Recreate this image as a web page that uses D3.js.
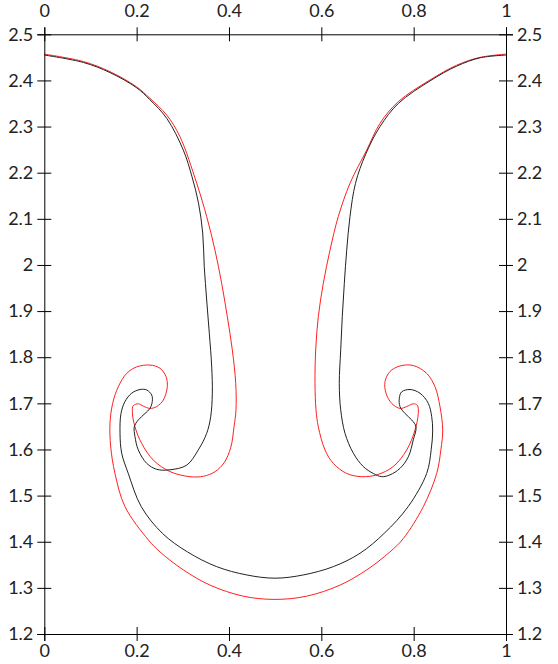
<!DOCTYPE html>
<html>
<head>
<meta charset="utf-8">
<script src="https://cdn.jsdelivr.net/npm/d3@7"></script>
<style>
  body { margin: 0; background: #fff; }
  svg text { font-family: Lato, "DejaVu Sans", sans-serif; font-size: 18px; fill: #222; }
</style>
</head>
<body>
<svg id="chart" width="558" height="664"></svg>
<script>
// tick values
const xTicks = [0, 0.2, 0.4, 0.6, 0.8, 1];
const yTicks = [1.2, 1.3, 1.4, 1.5, 1.6, 1.7, 1.8, 1.9, 2, 2.1, 2.2, 2.3, 2.4, 2.5];

// red interface (x, y)
const redX = [0, 0.0845, 0.1423, 0.2001, 0.2289, 0.2651, 0.2939, 0.3301, 0.3517, 0.3697, 0.3842, 0.3964, 0.4072, 0.4146, 0.4152, 0.4109, 0.4040, 0.3900, 0.3700, 0.3450, 0.3156, 0.2723, 0.2361, 0.2110, 0.1964, 0.1906, 0.1928, 0.2036, 0.2144, 0.2289, 0.2434, 0.2577, 0.2664, 0.2636, 0.2506, 0.2289, 0.2001, 0.1785, 0.1603, 0.1481, 0.1423, 0.1438, 0.1531, 0.1748, 0.2253, 0.2506, 0.3011, 0.3589, 0.4310, 0.4997, 0.5683, 0.6405, 0.6983, 0.7487, 0.7776, 0.8209, 0.8499, 0.8590, 0.8629, 0.8570, 0.8462, 0.8282, 0.7992, 0.7704, 0.7487, 0.7379, 0.7401, 0.7524, 0.7704, 0.7849, 0.7992, 0.8079, 0.8100, 0.8029, 0.7849, 0.7559, 0.7200, 0.6875, 0.6550, 0.6259, 0.6080, 0.5935, 0.5885, 0.5863, 0.5878, 0.5935, 0.6043, 0.6188, 0.6368, 0.6621, 0.6983, 0.7271, 0.7667, 0.8354, 0.8932, 0.9437, 1];
const redY = [2.457, 2.441, 2.419, 2.386, 2.361, 2.325, 2.278, 2.177, 2.105, 2.032, 1.960, 1.888, 1.816, 1.743, 1.686, 1.649, 1.605, 1.572, 1.552, 1.542, 1.541, 1.552, 1.577, 1.613, 1.649, 1.682, 1.695, 1.699, 1.694, 1.689, 1.693, 1.707, 1.736, 1.758, 1.776, 1.783, 1.779, 1.765, 1.736, 1.700, 1.657, 1.606, 1.548, 1.476, 1.404, 1.378, 1.339, 1.306, 1.282, 1.275, 1.282, 1.306, 1.339, 1.378, 1.407, 1.476, 1.548, 1.600, 1.642, 1.693, 1.736, 1.765, 1.782, 1.781, 1.769, 1.747, 1.722, 1.700, 1.689, 1.693, 1.699, 1.696, 1.678, 1.642, 1.599, 1.563, 1.545, 1.541, 1.548, 1.570, 1.599, 1.649, 1.686, 1.743, 1.816, 1.888, 1.960, 2.032, 2.105, 2.177, 2.249, 2.307, 2.354, 2.401, 2.433, 2.450, 2.457];

// black interface (x, y)
const blackX = [0, 0.0845, 0.1423, 0.2001, 0.2289, 0.2651, 0.3011, 0.3200, 0.3340, 0.3431, 0.3465, 0.3517, 0.3574, 0.3626, 0.3639, 0.3604, 0.3517, 0.3335, 0.3084, 0.2723, 0.2434, 0.2218, 0.2036, 0.1964, 0.1949, 0.2036, 0.2181, 0.2289, 0.2339, 0.2326, 0.2218, 0.2073, 0.1893, 0.1748, 0.1661, 0.1640, 0.1676, 0.1819, 0.2100, 0.2560, 0.3100, 0.3734, 0.4384, 0.4997, 0.5610, 0.6259, 0.6838, 0.7360, 0.7880, 0.8282, 0.8380, 0.8412, 0.8391, 0.8317, 0.8137, 0.7921, 0.7741, 0.7689, 0.7704, 0.7813, 0.7958, 0.8051, 0.7992, 0.7884, 0.7704, 0.7487, 0.7308, 0.7126, 0.6909, 0.6693, 0.6513, 0.6420, 0.6389, 0.6420, 0.6454, 0.6498, 0.6550, 0.6621, 0.6740, 0.6960, 0.7271, 0.7667, 0.8354, 0.8932, 0.9437, 1];
const blackY = [2.455, 2.439, 2.417, 2.384, 2.358, 2.318, 2.249, 2.191, 2.134, 2.069, 1.996, 1.924, 1.852, 1.779, 1.722, 1.671, 1.635, 1.599, 1.566, 1.556, 1.557, 1.570, 1.599, 1.628, 1.649, 1.664, 1.678, 1.689, 1.704, 1.718, 1.729, 1.730, 1.722, 1.704, 1.678, 1.635, 1.592, 1.548, 1.476, 1.418, 1.378, 1.346, 1.328, 1.321, 1.328, 1.346, 1.375, 1.418, 1.476, 1.548, 1.600, 1.640, 1.671, 1.700, 1.722, 1.730, 1.725, 1.711, 1.693, 1.678, 1.664, 1.649, 1.621, 1.584, 1.559, 1.545, 1.541, 1.548, 1.563, 1.592, 1.635, 1.686, 1.743, 1.816, 1.888, 1.960, 2.032, 2.105, 2.177, 2.240, 2.300, 2.350, 2.399, 2.431, 2.449, 2.455];

const svg = d3.select("#chart");
const plotLeft = 44.3, plotRight = 506, plotTop = 34.3, plotBottom = 634;

const x = d3.scaleLinear().domain([0, 1]).range([plotLeft, plotRight]);
const y = d3.scaleLinear().domain([1.2, 2.5]).range([plotBottom, plotTop]);
const fmt = d3.format("~g");

const line = d3.line()
    .x(d => x(d[0]))
    .y(d => y(d[1]))
    .curve(d3.curveCatmullRom.alpha(0.5));

svg.append("path")
    .datum(d3.zip(redX, redY))
    .attr("d", line)
    .attr("fill", "none")
    .attr("stroke", "#ff2020")
    .attr("stroke-width", 1);

svg.append("path")
    .datum(d3.zip(blackX, blackY))
    .attr("d", line)
    .attr("fill", "none")
    .attr("stroke", "#222")
    .attr("stroke-width", 1);

// ticks cross the axis line on both sides
function cross(g, horiz) {
    g.select(".domain").attr("stroke", "#000");
    g.selectAll(".tick line")
        .attr("stroke", "#000")
        .attr(horiz ? "y1" : "x1", -7)
        .attr(horiz ? "y2" : "x2", 7);
    g.selectAll(".tick text").style("font-size", "18px");
}

svg.append("g")
    .attr("transform", `translate(0,${plotTop})`)
    .call(d3.axisTop(x).tickValues(xTicks).tickFormat(fmt).tickSizeOuter(0).tickPadding(10).tickSize(7))
    .call(g => cross(g, true));

svg.append("g")
    .attr("transform", `translate(0,${plotBottom})`)
    .call(d3.axisBottom(x).tickValues(xTicks).tickFormat(fmt).tickSizeOuter(0).tickPadding(3).tickSize(7))
    .call(g => cross(g, true));

svg.append("g")
    .attr("transform", `translate(${plotLeft},0)`)
    .call(d3.axisLeft(y).tickValues(yTicks).tickFormat(fmt).tickSizeOuter(0).tickPadding(4).tickSize(7))
    .call(g => cross(g, false));

svg.append("g")
    .attr("transform", `translate(${plotRight},0)`)
    .call(d3.axisRight(y).tickValues(yTicks).tickFormat(fmt).tickSizeOuter(0).tickPadding(4).tickSize(7))
    .call(g => cross(g, false));
</script>
</body>
</html>
